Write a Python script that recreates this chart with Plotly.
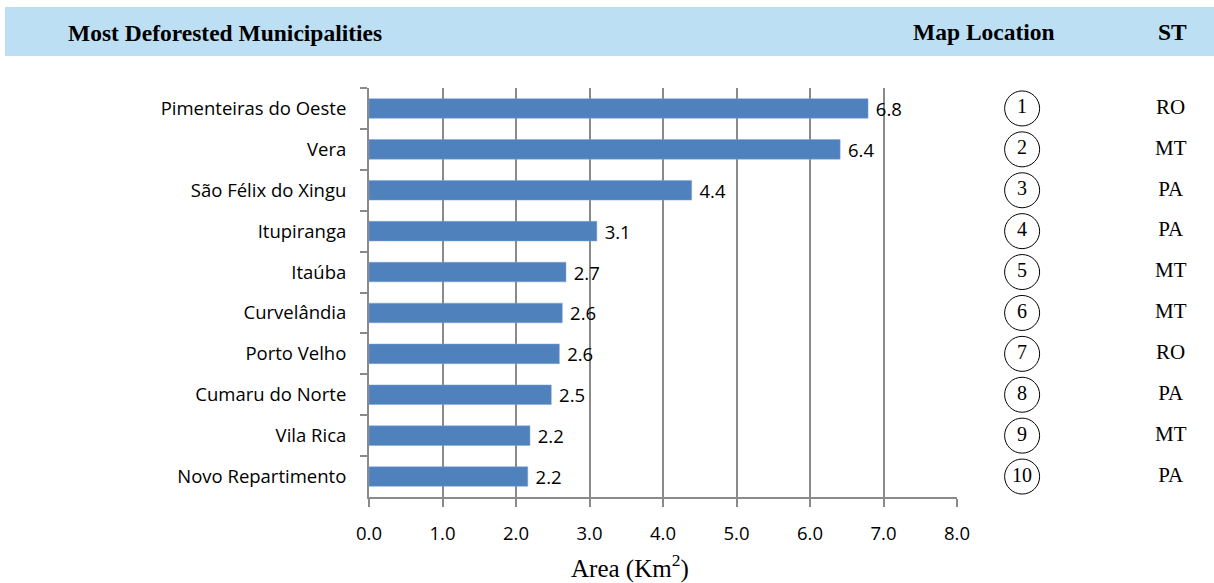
import plotly.graph_objects as go

# Municipalities ranked by deforested area (top to bottom)
municipalities = [
    "Pimenteiras do Oeste", "Vera", "São Félix do Xingu", "Itupiranga", "Itaúba",
    "Curvelândia", "Porto Velho", "Cumaru do Norte", "Vila Rica", "Novo Repartimento",
]
area_km2 = [6.79, 6.41, 4.39, 3.10, 2.68, 2.63, 2.59, 2.48, 2.19, 2.16]
map_location = ["1", "2", "3", "4", "5", "6", "7", "8", "9", "10"]
state = ["RO", "MT", "PA", "PA", "MT", "MT", "RO", "PA", "MT", "PA"]
x_ticks = [0, 1, 2, 3, 4, 5, 6, 7, 8]
x_tick_labels = ["0.0", "1.0", "2.0", "3.0", "4.0", "5.0", "6.0", "7.0", "8.0"]

W, H = 1214, 583
sans = "'Open Sans', Lato, sans-serif"
serif = "'Liberation Serif', 'Times New Roman', serif"
grid = "#8a8a8a"
n = len(municipalities)

fig = go.Figure()

fig.add_trace(go.Bar(
    x=area_km2, y=municipalities, orientation="h",
    marker=dict(color="#4f81bd", line=dict(color="#7ea4d6", width=0.5)),
    width=0.48,
    texttemplate=" %{x:.1f}", textposition="outside", cliponaxis=False,
    constraintext="none",
    textfont=dict(family=sans, size=18.5, color="#000000"),
    xaxis="x", yaxis="y", hoverinfo="skip",
))

# Circled map-location numbers
fig.add_trace(go.Scatter(
    x=[0.18] * n, y=municipalities, mode="markers+text",
    marker=dict(symbol="circle-open", size=35, color="#000000", line=dict(width=1)),
    text=map_location, textposition="middle center",
    textfont=dict(family=serif, size=20, color="#000000"),
    xaxis="x2", yaxis="y", hoverinfo="skip", cliponaxis=False,
))

# State abbreviations
fig.add_trace(go.Scatter(
    x=[0.815] * n, y=municipalities, mode="text",
    text=state, textposition="middle center",
    textfont=dict(family=serif, size=21, color="#000000"),
    xaxis="x2", yaxis="y", hoverinfo="skip", cliponaxis=False,
))

fig.update_layout(
    width=W, height=H,
    margin=dict(l=0, r=0, t=0, b=0, autoexpand=False),
    paper_bgcolor="#ffffff", plot_bgcolor="#ffffff",
    showlegend=False,
    xaxis=dict(
        domain=[369 / W, 957 / W], range=[0, 8], automargin=False,
        tickmode="array", tickvals=x_ticks, ticktext=x_tick_labels,
        showgrid=True, gridcolor=grid, gridwidth=2,
        showline=True, linecolor=grid, linewidth=2,
        ticks="outside", ticklen=8, tickcolor=grid, tickwidth=2,
        ticklabelstandoff=11,
        tickfont=dict(family=sans, size=18.5, color="#000000"),
        zeroline=False, fixedrange=True,
    ),
    xaxis2=dict(
        domain=[980 / W, 1.0], range=[0, 1], anchor="y", automargin=False,
        showgrid=False, showline=False, showticklabels=False,
        zeroline=False, fixedrange=True,
    ),
    yaxis=dict(
        domain=[1 - 497 / H, 1 - 88 / H], automargin=False,
        type="category", range=[n - 0.5, -0.5],
        tickson="boundaries",
        showgrid=False, showline=True, linecolor=grid, linewidth=2,
        ticks="outside", ticklen=7, tickcolor=grid, tickwidth=2,
        ticklabelstandoff=17,
        tickfont=dict(family=sans, size=18.5, color="#000000"),
        zeroline=False, fixedrange=True,
    ),
    shapes=[dict(
        type="rect", xref="paper", yref="paper",
        x0=5 / W, x1=1.0, y0=1 - 56 / H, y1=1 - 7 / H,
        fillcolor="#bddff3", line=dict(width=0), layer="below",
    )],
    annotations=[
        dict(text="<b>Most Deforested Municipalities</b>", xref="paper", yref="paper",
             x=66 / W, y=1 - 33 / H, xanchor="left", yanchor="middle", showarrow=False,
             font=dict(family=serif, size=23.5, color="#000000")),
        dict(text="<b>Map Location</b>", xref="paper", yref="paper",
             x=984 / W, y=1 - 32 / H, xanchor="center", yanchor="middle", showarrow=False,
             font=dict(family=serif, size=23.5, color="#000000")),
        dict(text="<b>ST</b>", xref="paper", yref="paper",
             x=1172 / W, y=1 - 32 / H, xanchor="center", yanchor="middle", showarrow=False,
             font=dict(family=serif, size=23.5, color="#000000")),
        dict(text="Area (Km<sup>2</sup>)", xref="paper", yref="paper",
             x=630 / W, y=1 - 566 / H, xanchor="center", yanchor="middle", showarrow=False,
             font=dict(family=serif, size=25, color="#000000")),
    ],
)

fig.write_html("out.html")
